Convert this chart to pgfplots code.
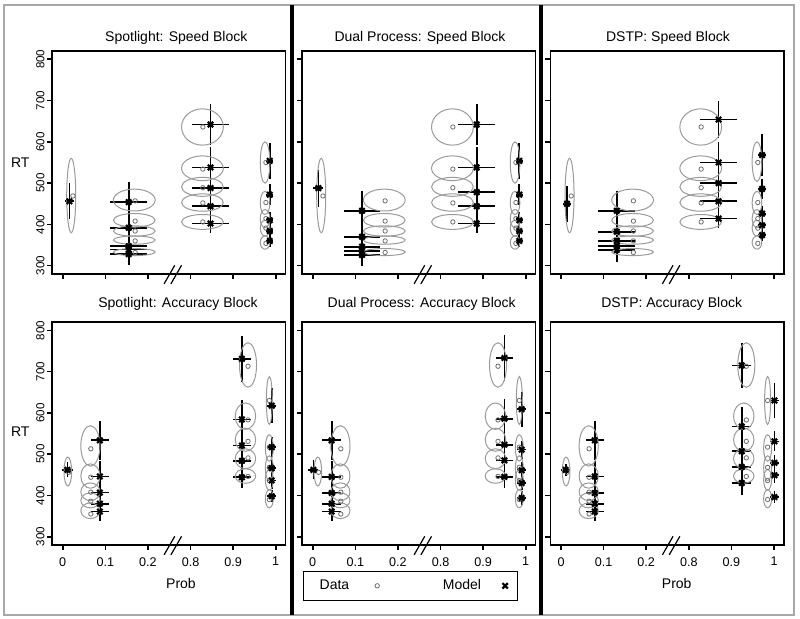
\documentclass[border=0pt]{standalone}
\usepackage{fontspec}
\setmainfont{Liberation Sans}
\usepackage{pgfplots}
\pgfplotsset{compat=1.18}
\usepackage{pgfplotstable}

\definecolor{ellgray}{HTML}{9A9A9A}
\definecolor{datgray}{HTML}{6E6E6E}
\definecolor{framegray}{HTML}{A8A8A8}

\pgfdeclareplotmark{ellip}{%
  \pgfpathellipse{\pgfpointorigin}{\pgfplotspointaxisdirectionxy{\erx}{0}}{\pgfplotspointaxisdirectionxy{0}{\ery}}%
  \pgfusepathqstroke}

% data: x y = data point ; ex ey rx ry = ellipse
\pgfplotstableread{
x y ex ey rx ry
0.24 469 0.20 470 0.106 90
1.70 457 1.68 459 0.49 26.5
1.70 408 1.68 410 0.49 16.4
1.70 384 1.68 384 0.49 12.5
1.70 360 1.68 362 0.49 10
1.70 332 1.68 333 0.49 8.5
3.29 636 3.28 636 0.49 44
3.29 534 3.28 536 0.49 30
3.29 489 3.28 491 0.49 23
3.29 452 3.28 453 0.49 21
3.29 406 3.28 406 0.49 18
4.77 550 4.75 550 0.113 50
4.77 453 4.75 452 0.113 28
4.77 414 4.75 414 0.113 22
4.77 391 4.75 391 0.113 19
4.77 354 4.75 356 0.113 16
}\speeddata

\pgfplotstableread{
x y ex ey rx ry
0.24 469 0.20 470 0.106 90
1.70 457 1.68 459 0.49 26.5
1.70 408 1.68 410 0.49 16.4
1.70 384 1.68 384 0.49 12.5
1.70 360 1.68 362 0.49 10
1.70 332 1.68 333 0.49 8.5
3.29 636 3.28 636 0.49 44
3.29 534 3.28 536 0.49 30
3.29 489 3.28 491 0.49 23
3.29 452 3.28 453 0.49 21
3.29 406 3.28 406 0.49 18
4.62 550 4.60 552 0.113 48
4.62 453 4.60 452 0.113 28
4.62 414 4.60 414 0.113 22
4.62 391 4.60 391 0.113 19
4.62 354 4.60 356 0.113 16
}\speeddatathree

\pgfplotstableread{
x y ex ey rx ry
0.14 456 0.12 458 0.09 35
0.66 513 0.65 520 0.225 49
0.66 444 0.65 447 0.225 29.5
0.66 408 0.65 409 0.225 21.4
0.66 386 0.65 388 0.225 18
0.66 355 0.65 363 0.225 19
4.35 713 4.35 716 0.20 54
4.35 583 4.29 592 0.24 32
4.35 531 4.29 535 0.24 28
4.35 491 4.29 489 0.24 24
4.35 446 4.29 447 0.24 17.5
4.85 630 4.85 630 0.07 58
4.85 517 4.85 515 0.093 32
4.85 468 4.85 466 0.093 30
4.85 436 4.85 438 0.093 25
4.85 390 4.85 392 0.093 22
}\accdata

% models: x y xe ye
\pgfplotstableread{
x y xe ye
0.156 456 0.105 44
1.55 454 0.43 48
1.55 392 0.43 40
1.55 347 0.43 33
1.55 339 0.43 30
1.55 328 0.43 26
3.47 642 0.43 50
3.47 538 0.43 50
3.47 488 0.43 43
3.47 444 0.43 40
3.47 402 0.43 22
4.86 554 0.085 44
4.86 472 0.085 25
4.86 410 0.085 20
4.86 384 0.085 18
4.86 360 0.085 15
}\spotspeed

\pgfplotstableread{
x y xe ye
0.133 488 0.117 45
1.158 433 0.43 48
1.158 370 0.43 38
1.158 346 0.43 33
1.158 336 0.43 30
1.158 326 0.43 26
3.85 642 0.43 50
3.85 538 0.43 50
3.85 478 0.43 42
3.85 444 0.43 40
3.85 402 0.43 22
4.85 554 0.085 44
4.85 472 0.085 25
4.85 410 0.085 20
4.85 384 0.085 18
4.85 360 0.085 15
}\dualspeed

\pgfplotstableread{
x y xe ye
0.141 450 0.09 44
1.31 433 0.43 48
1.31 382 0.43 40
1.31 360 0.43 33
1.31 348 0.43 30
1.31 338 0.43 28
3.70 654 0.43 45
3.70 550 0.43 50
3.70 500 0.43 45
3.70 456 0.43 40
3.70 414 0.43 22
4.72 568 0.1 50
4.72 486 0.1 24
4.72 426 0.1 18
4.72 398 0.1 16
4.72 374 0.1 14
}\dstpspeed

\pgfplotstableread{
x y xe ye
0.11 462 0.128 18
0.872 533.5 0.215 48
0.872 446 0.215 38
0.872 407 0.215 30
0.872 380 0.215 25
0.872 361 0.215 22
4.206 731 0.215 55
4.206 584 0.215 48
4.206 521 0.215 45
4.206 484 0.215 40
4.206 444 0.215 26
4.907 617.5 0.1 42
4.907 517 0.1 24
4.907 466 0.1 20
4.907 436.5 0.1 20
4.907 398 0.1 15
}\spotacc

\pgfplotstableread{
x y xe ye
0.016 462 0.117 23
0.446 533.5 0.22 48
0.446 445 0.22 38
0.446 406 0.22 30
0.446 380 0.22 25
0.446 361 0.22 22
4.50 733 0.2 55
4.50 586 0.2 48
4.50 523 0.2 45
4.50 485 0.2 40
4.50 445 0.2 27
4.906 609 0.11 42
4.906 511 0.11 22
4.906 461 0.11 20
4.906 430 0.11 18
4.906 394 0.11 16
}\dualacc

\pgfplotstableread{
x y xe ye
0.11 462 0.106 14
0.792 533.5 0.215 48
0.792 446 0.215 38
0.792 406 0.215 30
0.792 380 0.215 25
0.792 361 0.215 22
4.243 715 0.22 54
4.243 567 0.22 48
4.243 507 0.22 45
4.243 469 0.22 40
4.243 430 0.22 28
5.01 630 0.1 43
5.01 531 0.1 24
5.01 479 0.1 20
5.01 449 0.1 18
5.01 396 0.1 14
}\dstpacc

\pgfplotsset{
  panel/.style={
    x=21.3pt, y=0.2064pt,
    xmin=-0.25, xmax=5.23, ymin=280, ymax=820,
    anchor=south west, clip=false,
    axis line style={line width=0.8pt},
    tick pos=left, tick align=outside,
    major tick length=2.6pt,
    tick style={black, line width=0.8pt},
    xtick={0,1,2,3,4,5}, ytick={300,400,500,600,700,800},
    xticklabels={0,0.1,0.2,0.8,0.9,1},
    xticklabel style={font=\fontsize{6.3}{7}\selectfont},
    yticklabel style={font=\fontsize{5.8}{6.5}\selectfont, rotate=90, anchor=south, inner sep=1pt},
    /pgf/number format/assume math mode=true,
  },
  notx/.style={xticklabels={}},
  noty/.style={yticklabels={}},
  ell/.style={scatter, only marks, mark=ellip, ellgray,
    mark options={line width=0.5pt},
    scatter/@pre marker code/.code={}, scatter/@post marker code/.code={},
    visualization depends on={\thisrow{rx} \as \erx},
    visualization depends on={\thisrow{ry} \as \ery},
    forget plot},
  dat/.style={only marks, mark=o, mark size=1.1pt, datgray,
    mark options={line width=0.4pt}},
  mdl/.style={only marks, mark=x, mark size=1.9pt, black,
    mark options={line width=1.1pt},
    error bars/x dir=both, error bars/y dir=both,
    error bars/x explicit, error bars/y explicit,
    error bars/error mark=none,
    error bars/error bar style={line width=0.85pt, black}},
  ptleg/.style={legend image code/.code={\draw[##1] plot coordinates {(0pt,0pt)};}},
}
\newcommand\brk{%
  \draw[line width=0.6pt] (axis cs:2.38,256) -- (axis cs:2.63,301);
  \draw[line width=0.6pt] (axis cs:2.54,256) -- (axis cs:2.79,301);}

\begin{document}
\begin{tikzpicture}
\path[use as bounding box] (0,0) rectangle (400pt,309.5pt);
\draw[framegray, line width=0.6pt] (2pt,2pt) rectangle (397pt,307pt);
\fill[black] (145pt,2pt) rectangle (147pt,307pt);
\fill[black] (269.5pt,2pt) rectangle (271.5pt,307pt);

% ---------- Row 1: speed ----------
\begin{axis}[panel, notx, at={(26.03pt,172.52pt)}]
\addplot[ell] table[x=ex,y=ey]{\speeddata};
\addplot[dat] table[x=x,y=y]{\speeddata};
\addplot[mdl] table[x=x,y=y,x error=xe,y error=ye]{\spotspeed};
\brk
\end{axis}

\begin{axis}[panel, notx, noty, at={(151.03pt,172.52pt)}]
\addplot[ell] table[x=ex,y=ey]{\speeddata};
\addplot[dat] table[x=x,y=y]{\speeddata};
\addplot[mdl] table[x=x,y=y,x error=xe,y error=ye]{\dualspeed};
\brk
\end{axis}

\begin{axis}[panel, notx, noty, at={(275.18pt,172.52pt)}]
\addplot[ell] table[x=ex,y=ey]{\speeddatathree};
\addplot[dat] table[x=x,y=y]{\speeddatathree};
\addplot[mdl] table[x=x,y=y,x error=xe,y error=ye]{\dstpspeed};
\brk
\end{axis}

% ---------- Row 2: accuracy ----------
\begin{axis}[panel, at={(26.03pt,37.0pt)}]
\addplot[ell] table[x=ex,y=ey]{\accdata};
\addplot[dat] table[x=x,y=y]{\accdata};
\addplot[mdl] table[x=x,y=y,x error=xe,y error=ye]{\spotacc};
\brk
\end{axis}

\begin{axis}[panel, noty, at={(151.03pt,37.0pt)},
  legend columns=2, legend plot pos=right,
  legend style={at={(axis description cs:0.003,-0.115)}, anchor=north west,
    draw=black, line width=0.6pt, font=\fontsize{7}{8}\selectfont,
    inner xsep=4.9pt, inner ysep=4pt, nodes={inner sep=0pt},
    /tikz/every odd column/.append style={column sep=12.9pt},
    /tikz/every even column/.append style={column sep=31.75pt}}]
\addplot[ell] table[x=ex,y=ey]{\accdata};
\addplot[dat, ptleg] table[x=x,y=y]{\accdata};
\addlegendentry{\hspace*{3.25pt}Data}
\addplot[ptleg, mdl] table[x=x,y=y,x error=xe,y error=ye]{\dualacc};
\addlegendentry{Model\hspace*{-2.2pt}}
\brk
\end{axis}

\begin{axis}[panel, noty, at={(275.18pt,37.0pt)}]
\addplot[ell] table[x=ex,y=ey]{\accdata};
\addplot[dat] table[x=x,y=y]{\accdata};
\addplot[mdl] table[x=x,y=y,x error=xe,y error=ye]{\dstpacc};
\brk
\end{axis}

% ---------- Texts ----------
\begin{scope}[every node/.style={font=\fontsize{7}{8}\selectfont}]
\node at (88.15pt,290.75pt) {Spotlight: Speed Block};
\node at (210pt,290.75pt) {Dual Process: Speed Block};
\node at (334pt,290.75pt) {DSTP: Speed Block};
\node at (89pt,157.75pt) {Spotlight: Accuracy Block};
\node at (210.85pt,157.75pt) {Dual Process: Accuracy Block};
\node at (335.85pt,157.75pt) {DSTP: Accuracy Block};
\node at (10.15pt,228.25pt) {RT};
\node at (10.15pt,93.5pt) {RT};
\node at (90.5pt,17.5pt) {Prob};
\node at (338.35pt,17.5pt) {Prob};
\end{scope}
\end{tikzpicture}
\end{document}
